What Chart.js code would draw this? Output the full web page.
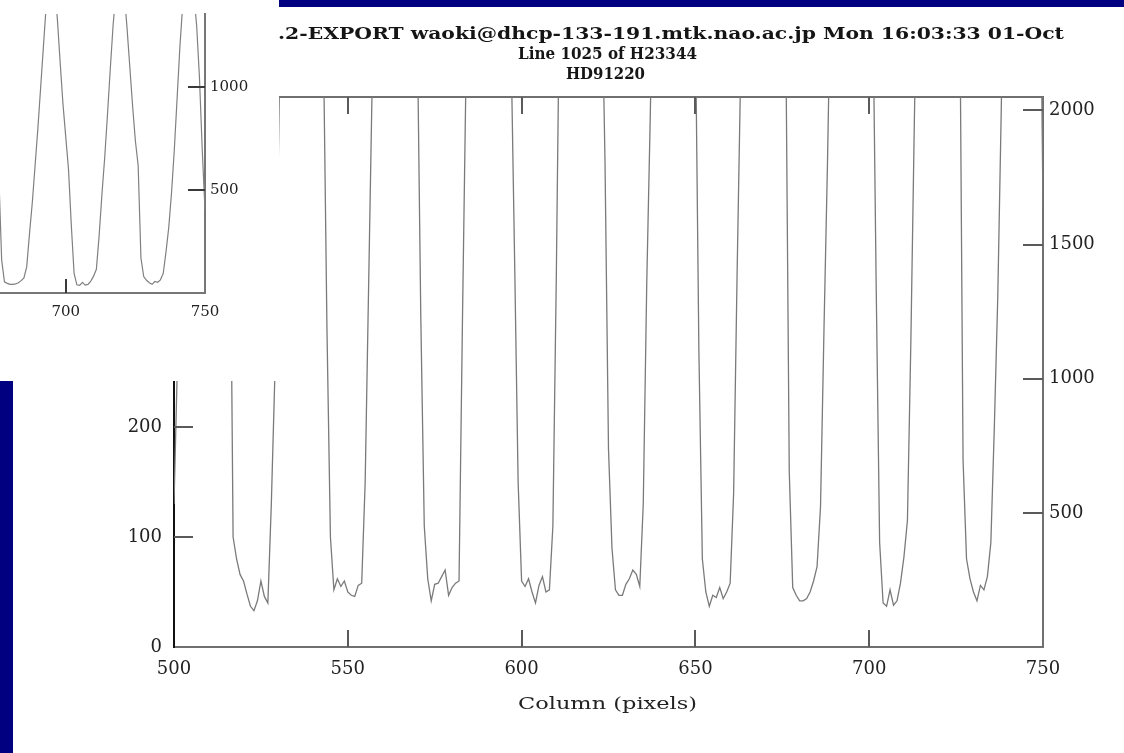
<!DOCTYPE html>
<html>
<head>
<meta charset="utf-8">
<title>Line 1025 of H23344 - HD91220</title>
<script src="https://cdn.jsdelivr.net/npm/chart.js@4.4.1/dist/chart.umd.min.js"></script>
<style>
  html, body { margin: 0; padding: 0; background: #fff; }
  body { width: 1124px; height: 753px; position: relative; overflow: hidden; }
  #topBar { position: absolute; left: 0; top: 0; width: 1124px; height: 7px; background: #000080; }
  #leftBar { position: absolute; left: 0; top: 0; width: 13px; height: 753px; background: #000080; }
  #mainChart { position: absolute; left: 0; top: 0; }
  #inset { position: absolute; left: 0; top: 0; width: 279px; height: 381px; background: #fff; z-index: 2; }
  #insetChart { position: absolute; left: 0; top: 0; }
</style>
</head>
<body>
<div id="topBar"></div>
<div id="leftBar"></div>
<canvas id="mainChart" width="1124" height="753"></canvas>
<div id="inset"><canvas id="insetChart" width="279" height="381"></canvas></div>

<script>
// =========================
//  IRAF IMPLOT - LINE 1025
// =========================

// ====== DATA ======
// counts per column, starting at column 500 (one value per pixel column)
const firstColumn = 500;
const counts = [
    130, 260, 470, 690, 910, 1130, 1330, 1490, 1590, 1610,   // 500
    1550, 1420, 1240, 1040, 850, 670, 470, 100, 80, 66,      // 510
    60, 48, 37, 33, 42, 60, 46, 40, 130, 245,                // 520
    440, 660, 880, 1100, 1310, 1470, 1560, 1540, 1420, 1250, // 530
    1050, 860, 700, 545, 290, 100, 52, 62, 55, 60,           // 540
    50, 47, 46, 56, 58, 150, 330, 510, 720, 930,             // 550
    1150, 1350, 1500, 1570, 1540, 1420, 1250, 1060, 880, 710, // 560
    560, 300, 110, 62, 42, 57, 58, 64, 70, 47,               // 570
    54, 58, 60, 300, 520, 720, 930, 1150, 1350, 1500,        // 580
    1560, 1530, 1400, 1220, 1030, 850, 690, 540, 350, 150,   // 590
    60, 55, 62, 50, 40, 56, 64, 50, 52, 110,                 // 600
    340, 620, 840, 1060, 1280, 1450, 1550, 1560, 1470, 1300, // 610
    1110, 920, 750, 620, 440, 180, 90, 52, 47, 47,           // 620
    57, 62, 70, 66, 55, 130, 330, 480, 650, 850,             // 630
    1060, 1270, 1440, 1540, 1550, 1450, 1280, 1090, 900, 740, // 640
    570, 270, 80, 50, 37, 47, 45, 54, 44, 50,                // 650
    58, 140, 340, 520, 720, 930, 1150, 1350, 1500, 1570,     // 660
    1550, 1430, 1260, 1070, 880, 710, 560, 160, 54, 47,      // 670
    42, 42, 44, 50, 60, 73, 128, 290, 440, 620,              // 680
    800, 1000, 1200, 1400, 1540, 1580, 1500, 1330, 1120, 920, // 690
    760, 600, 330, 95, 40, 37, 52, 38, 42, 58,               // 700
    82, 115, 280, 480, 660, 870, 1090, 1300, 1460, 1550,     // 710
    1560, 1460, 1290, 1100, 910, 740, 620, 170, 80, 62,      // 720
    50, 42, 56, 52, 64, 95, 200, 320, 490, 700,              // 730
    950, 1200, 1400, 1540, 1600, 1560, 1450, 1300, 1050, 700, // 740
    400                                                      // 750
];

// tick labels / tick marks
const xTickLabels = [500, 550, 600, 650, 700, 750];
const xTickMarks = [550, 600, 650, 700];
const leftTickLabels = [0, 100, 200, 300, 400];
const leftTickMarks = [100, 200, 300, 400];
const rightTickLabels = [500, 1000, 1500, 2000];

// inset (full height view of the last columns)
const insetXLabels = [700, 750];
const insetXMarks = [700];
const insetYLabels = [500, 1000];

const titleLines = [
    'NOAO/IRAF V2.12.2-EXPORT waoki@dhcp-133-191.mtk.nao.ac.jp Mon 16:03:33 01-Oct',
    'Line 1025 of H23344',
    'HD91220'
];
const xTitle = 'Column (pixels)';

const points = counts.map((v, i) => ({ x: firstColumn + i, y: v }));

// ====== HELPERS ======
const ticksFrom = (list) => (scale) => { scale.ticks = list.map(v => ({ value: v })); };
const plain = (v) => String(v);

function drawFitted(ctx, item) {
    ctx.save();
    ctx.font = item.font;
    ctx.fillStyle = item.color;
    ctx.textBaseline = 'alphabetic';
    const part = item.from ? item.text.slice(item.text.indexOf(item.from)) : item.text;
    const sx = item.width / ctx.measureText(part).width;
    if (item.right !== undefined) {
        ctx.translate(item.right, item.y);
        ctx.textAlign = 'right';
    } else {
        ctx.translate(item.center, item.y);
        ctx.textAlign = 'center';
    }
    ctx.scale(sx, 1);
    ctx.fillText(item.text, 0, 0);
    ctx.restore();
}

// inward IRAF style tick marks + free text
const irafPlugin = {
    id: 'iraf',
    afterDatasetsDraw(chart, args, opts) {
        const { ctx, chartArea: a, scales } = chart;
        const len = opts.len || 17;
        ctx.save();
        ctx.strokeStyle = opts.color || '#555';
        ctx.lineWidth = 2;
        ctx.beginPath();
        (opts.bottom || []).forEach(v => {
            const px = Math.round(scales.x.getPixelForValue(v));
            ctx.moveTo(px, a.bottom); ctx.lineTo(px, a.bottom - len);
        });
        (opts.top || []).forEach(v => {
            const px = Math.round(scales.x.getPixelForValue(v));
            ctx.moveTo(px, a.top); ctx.lineTo(px, a.top + len);
        });
        (opts.left || []).forEach(v => {
            const py = Math.round(scales[opts.leftScale].getPixelForValue(v));
            ctx.moveTo(a.left, py); ctx.lineTo(a.left + len + 2, py);
        });
        (opts.right || []).forEach(v => {
            const py = Math.round(scales[opts.rightScale].getPixelForValue(v));
            ctx.moveTo(a.right, py); ctx.lineTo(a.right - len - 3, py);
        });
        ctx.stroke();
        ctx.restore();

        (opts.texts || []).forEach(t => drawFitted(ctx, t));
    }
};

// ====== MAIN PLOT ======
const tickFont = { family: "'DejaVu Serif', serif", size: 18 };
const frameColor = '#707070';

new Chart(document.getElementById('mainChart'), {
    type: 'line',
    data: {
        datasets: [{
            data: points,
            xAxisID: 'x',
            yAxisID: 'y',
            borderColor: '#7a7a7a',
            borderWidth: 1.3,
            pointRadius: 0,
            tension: 0
        }]
    },
    plugins: [irafPlugin],
    options: {
        responsive: false,
        animation: false,
        devicePixelRatio: 1,
        events: [],
        layout: { padding: { left: 127, right: 0, top: 97, bottom: 46 } },
        plugins: {
            legend: { display: false },
            tooltip: { enabled: false },
            iraf: {
                color: '#5a5a5a',
                len: 17,
                bottom: xTickMarks,
                top: xTickMarks,
                left: leftTickMarks,
                leftScale: 'y',
                right: rightTickLabels,
                rightScale: 'y2',
                texts: [
                    { text: titleLines[0], from: '.2-EXPORT', right: 1064, y: 39, width: 786, font: "bold 16px 'DejaVu Serif'", color: '#151515' },
                    { text: titleLines[1], center: 607.5, y: 59, width: 179, font: "bold 16px 'DejaVu Serif'", color: '#151515' },
                    { text: titleLines[2], center: 605.5, y: 79, width: 79, font: "bold 16px 'DejaVu Serif'", color: '#151515' },
                    { text: xTitle, center: 607.5, y: 709, width: 179, font: "17px 'DejaVu Serif'", color: '#222' }
                ]
            }
        },
        scales: {
            x: {
                type: 'linear',
                position: 'bottom',
                min: 500,
                max: 750,
                afterBuildTicks: ticksFrom(xTickLabels),
                afterFit: (s) => { s.height = 60; },
                grid: { drawOnChartArea: false, drawTicks: false },
                border: { color: frameColor, width: 2 },
                ticks: { font: tickFont, color: '#222', padding: 12, maxRotation: 0, autoSkip: false, callback: plain }
            },
            xTop: {
                type: 'linear',
                axis: 'x',
                position: 'top',
                min: 500,
                max: 750,
                ticks: { display: false },
                grid: { drawOnChartArea: false, drawTicks: false },
                border: { color: frameColor, width: 2 }
            },
            y: {
                type: 'linear',
                position: 'left',
                min: 0,
                max: 500,
                afterBuildTicks: ticksFrom(leftTickLabels),
                afterFit: (s) => { s.width = 47; },
                grid: { drawOnChartArea: false, drawTicks: false },
                border: { color: '#111', width: 2 },
                ticks: { font: tickFont, color: '#222', padding: 12, autoSkip: false, callback: plain }
            },
            y2: {
                type: 'linear',
                axis: 'y',
                position: 'right',
                min: 0,
                max: 2050,
                afterBuildTicks: ticksFrom(rightTickLabels),
                afterFit: (s) => { s.width = 81; },
                grid: { drawOnChartArea: false, drawTicks: false },
                border: { color: frameColor, width: 2 },
                ticks: { font: tickFont, color: '#222', padding: 6, autoSkip: false, callback: plain }
            }
        }
    }
});

// ====== INSET (full scale) ======
const insetFont = { family: "'DejaVu Serif', serif", size: 15 };

new Chart(document.getElementById('insetChart'), {
    type: 'line',
    data: {
        datasets: [{
            data: points,
            borderColor: '#808080',
            borderWidth: 1.2,
            pointRadius: 0,
            tension: 0
        }]
    },
    plugins: [irafPlugin],
    options: {
        responsive: false,
        animation: false,
        devicePixelRatio: 1,
        events: [],
        layout: { padding: 0 },
        plugins: {
            legend: { display: false },
            tooltip: { enabled: false },
            iraf: {
                color: '#3a3a3a',
                len: 14,
                bottom: insetXMarks,
                right: insetYLabels,
                rightScale: 'y'
            }
        },
        scales: {
            x: {
                type: 'linear',
                position: 'bottom',
                min: 676.4,
                max: 750,
                afterBuildTicks: ticksFrom(insetXLabels),
                afterFit: (s) => { s.height = 88; },
                grid: { drawOnChartArea: false, drawTicks: false },
                border: { color: '#777', width: 2 },
                ticks: { font: insetFont, color: '#222', padding: 10, maxRotation: 0, autoSkip: false, callback: plain }
            },
            y: {
                type: 'linear',
                position: 'right',
                min: 0,
                max: 1356,
                afterBuildTicks: ticksFrom(insetYLabels),
                afterFit: (s) => { s.width = 74; },
                grid: { drawOnChartArea: false, drawTicks: false },
                border: { color: '#777', width: 2 },
                ticks: { font: insetFont, color: '#222', padding: 5, autoSkip: false, callback: plain }
            }
        }
    }
});
</script>
</body>
</html>
